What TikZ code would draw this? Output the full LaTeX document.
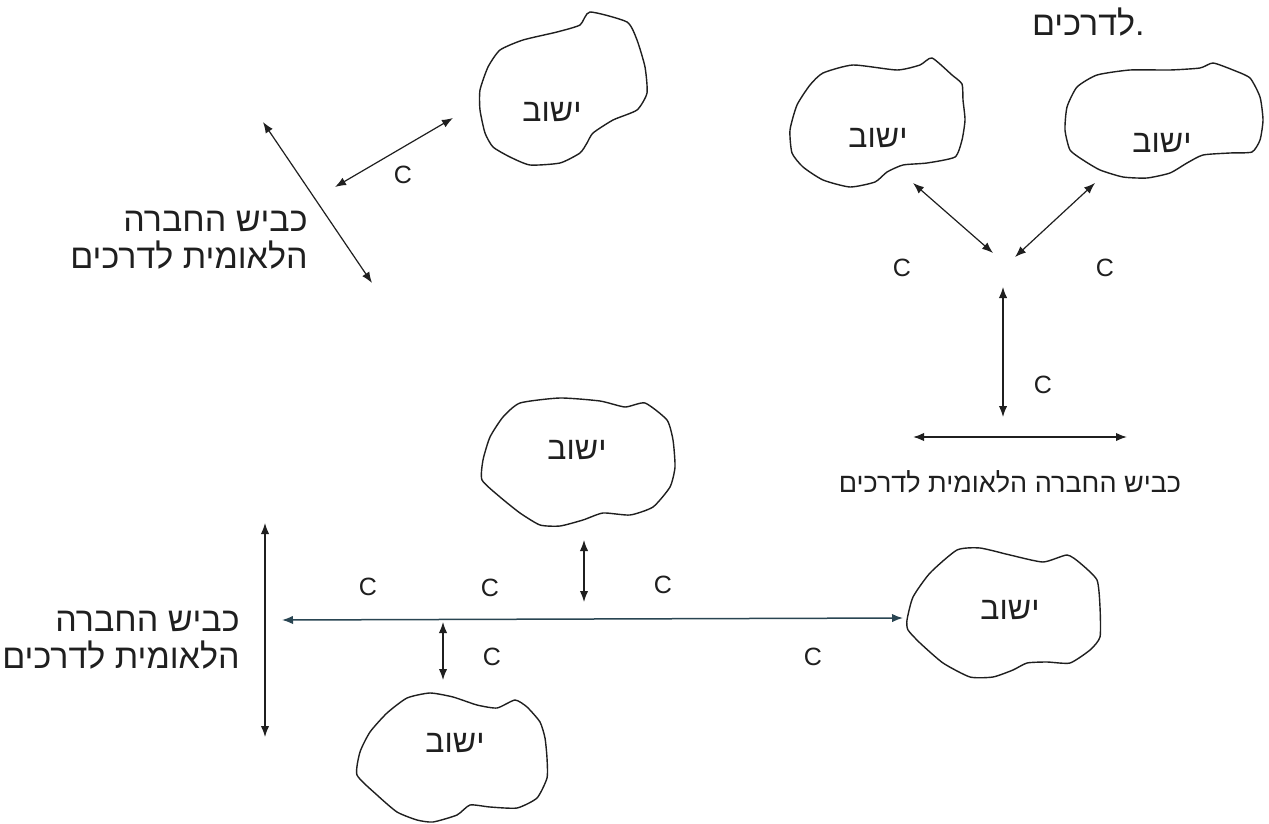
\documentclass[tikz,border=0pt]{standalone}
\usepackage{fontspec}
\usetikzlibrary{arrows.meta}
\TeXXeTstate=1
\newfontfamily\hebfont[Script=Hebrew]{Liberation Sans}
\newfontfamily\latfont{Liberation Sans}
\newcommand{\hb}[1]{\beginR #1\endR}
\definecolor{ink}{rgb}{0.12,0.12,0.12}
\definecolor{mainline}{rgb}{0.16,0.27,0.32}
\tikzset{
  blob/.style={draw=ink, line width=0.7pt},
  twoway/.style={draw=ink, line width=0.6pt, {Latex[length=5.5pt,width=4.2pt]}-{Latex[length=5.5pt,width=4.2pt]}},
  settle/.style={font=\hebfont\fontsize{16}{18}\selectfont, inner sep=0pt, text=ink},
  roadlabel/.style={font=\hebfont\fontsize{17}{18.5}\selectfont, align=right, inner sep=0pt, anchor=east, text=ink},
  clabel/.style={font=\latfont\fontsize{12.5}{14}\selectfont, inner sep=0pt, text=ink},
}
\begin{document}
\begin{tikzpicture}[x=0.5pt,y=-0.5pt]
\fill[white] (0,0) rectangle (1269,824);
\useasboundingbox (0,0) rectangle (1269,824);

% ---------- top text ----------
\node[font=\hebfont\fontsize{17}{18.5}\selectfont, anchor=east, inner sep=0pt, text=ink] (topword) at (1145,22) {\hb{לדרכים}.};

% ---------- blobs ----------
\draw[blob] plot[smooth cycle, tension=0.35] coordinates {(590,12) (627,22) (637,40) (645,67) (647,93) (637,110) (613,120) (593,133) (587,143) (580,153) (560,163) (530,165) (510,157) (493,147) (485,133) (480,110) (480,90) (488,67) (500,50) (523,40) (557,32) (580,25)};
\node[settle] (s1) at (552,112) {\hb{ישוב}};

\draw[blob] plot[smooth cycle, tension=0.35] coordinates {(932,58) (952,75) (962,84) (963,100) (965,120) (962,140) (955,157) (927,163) (903,165) (887,172) (875,182) (850,187) (823,180) (803,167) (792,153) (790,130) (797,105) (810,85) (823,73) (853,65) (897,70) (920,65)};
\node[settle] (s2) at (878,138) {\hb{ישוב}};

\draw[blob] plot[smooth cycle, tension=0.35] coordinates {(1213,63) (1233,70) (1250,78) (1260,97) (1263,120) (1260,140) (1252,152) (1230,153) (1203,155) (1187,163) (1170,173) (1147,178) (1123,177) (1100,170) (1083,160) (1070,150) (1065,130) (1067,107) (1077,87) (1097,75) (1130,70) (1170,70) (1200,68)};
\node[settle] (s3) at (1162,143) {\hb{ישוב}};

\draw[blob] plot[smooth cycle, tension=0.35] coordinates {(645,403) (667,420) (673,440) (675,467) (670,487) (653,507) (630,515) (603,513) (583,520) (560,526) (540,525) (520,513) (500,497) (482,480) (483,460) (490,437) (503,417) (520,403) (560,398) (600,401) (625,407)};
\node[settle] (s4) at (577,450) {\hb{ישוב}};

\draw[blob] plot[smooth cycle, tension=0.35] coordinates {(430,693) (453,697) (477,705) (497,708) (515,700) (527,707) (540,722) (545,738) (547,758) (547,778) (537,798) (517,808) (490,807) (470,805) (457,815) (433,822) (417,820) (397,812) (377,795) (357,775) (360,752) (370,732) (387,713) (407,698)};
\node[settle] (s5) at (455,743) {\hb{ישוב}};

\draw[blob] plot[smooth cycle, tension=0.35] coordinates {(907,620) (913,597) (930,573) (957,550) (980,548) (1010,555) (1043,562) (1067,555) (1080,563) (1097,580) (1100,607) (1100,637) (1090,650) (1070,663) (1047,662) (1027,663) (1013,670) (993,677) (970,677) (943,663) (920,643) (908,630)};
\node[settle] (s6) at (1010,610) {\hb{ישוב}};

% ---------- road labels ----------
\node[roadlabel] (road1) at (308,240) {\hb{כביש החברה}\\\hb{הלאומית לדרכים}};
\node[roadlabel] (road3) at (240,640) {\hb{כביש החברה}\\\hb{הלאומית לדרכים}};
\node[font=\hebfont\fontsize{13.5}{15}\selectfont, inner sep=0pt, text=ink] (road2) at (1010,482) {\hb{כביש החברה הלאומית לדרכים}};

% ---------- connector end points ----------
\coordinate (rdA1) at (263,122); \coordinate (rdA2) at (372,283);
\coordinate (cA1) at (335,187);  \coordinate (cA2) at (453,118);
\coordinate (t1a) at (913,183);  \coordinate (t1b) at (993,253);
\coordinate (t2a) at (1095,183); \coordinate (t2b) at (1015,257);
\coordinate (v1a) at (1003,287); \coordinate (v1b) at (1003,417);
\coordinate (h1a) at (913,437);  \coordinate (h1b) at (1127,437);
\coordinate (v2a) at (265,523);  \coordinate (v2b) at (265,737);
\coordinate (mL) at (282,620);   \coordinate (mR) at (903,618);
\coordinate (sa1) at (584,540);  \coordinate (sa2) at (584,602);
\coordinate (sb1) at (443,622);  \coordinate (sb2) at (443,680);

% ---------- connectors ----------
\draw[twoway] (rdA1) -- (rdA2);
\draw[twoway] (cA1) -- (cA2);
\draw[twoway] (t1a) -- (t1b);
\draw[twoway] (t2a) -- (t2b);
\draw[twoway] (v1a) -- (v1b);
\draw[twoway, line width=0.8pt] (h1a) -- (h1b);
\draw[twoway] (v2a) -- (v2b);
\draw[twoway, draw=mainline, line width=0.75pt] (mL) -- (mR);
\draw[twoway] (sa1) -- (sa2);
\draw[twoway] (sb1) -- (sb2);

% ---------- C labels ----------
\node[clabel] (c1) at (403,175) {C};
\node[clabel] (c2) at (902,268) {C};
\node[clabel] (c3) at (1105,268) {C};
\node[clabel] (c4) at (1043,385) {C};
\node[clabel] (c5) at (368,587) {C};
\node[clabel] (c6) at (490,588) {C};
\node[clabel] (c7) at (663,585) {C};
\node[clabel] (c8) at (492,657) {C};
\node[clabel] (c9) at (813,657) {C};
\end{tikzpicture}
\end{document}
